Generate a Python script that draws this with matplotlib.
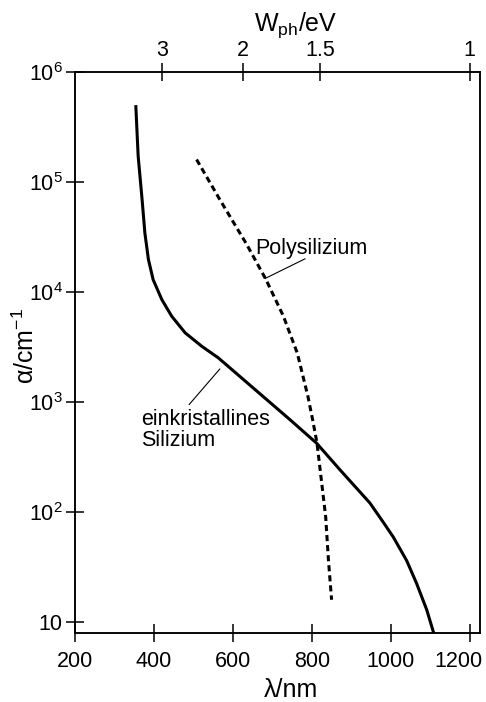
import matplotlib
matplotlib.use("Agg")
import matplotlib.pyplot as plt
from matplotlib.ticker import FixedLocator, FixedFormatter, NullLocator
from matplotlib.transforms import ScaledTranslation

plt.rcParams['font.family'] = ['Liberation Sans', 'DejaVu Sans']
plt.rcParams['mathtext.fontset'] = 'custom'
plt.rcParams['mathtext.rm'] = 'Liberation Sans'
plt.rcParams['mathtext.it'] = 'Liberation Sans'

# einkristallines Silizium (Wellenlaenge in nm, Absorption in 1/cm)
wl_mono = [354, 360, 370, 377, 386, 398, 420, 445, 479, 521, 563, 744,
           812, 871, 947, 980, 1006, 1040, 1065, 1091, 1109]
alpha_mono = [5.0e5, 1.72e5, 6.9e4, 3.44e4, 1.97e4, 1.29e4, 8.5e3, 6.0e3,
              4.24e3, 3.2e3, 2.51e3, 690, 420, 241, 120, 81, 59, 36,
              22.4, 12.8, 7.8]

# Polysilizium
wl_poly = [508, 567, 635, 684, 728, 763, 790, 802, 813, 824, 835, 842, 850]
alpha_poly = [1.6e5, 6.9e4, 2.7e4, 1.29e4, 6.0e3, 2.78e3, 1.12e3, 686, 422,
              195, 90, 36.5, 15.8]

# Achsenbeschriftung
x_ticks = [200, 400, 600, 800, 1000, 1200]
y_ticks = [10, 1e2, 1e3, 1e4, 1e5, 1e6]
y_labels = ['10', '10$^2$', '10$^3$', '10$^4$', '10$^5$', '10$^6$']
ev_labels = ['3', '2', '1.5', '1']
ev_pos_nm = [420, 625, 821, 1200]

fig = plt.figure(figsize=(4.86, 7.02), dpi=100)
ax = fig.add_axes([0.1543, 0.0979, 0.8334, 0.7995])

ax.plot(wl_mono, alpha_mono, color='black', lw=2.2, solid_capstyle='butt')
ax.plot(wl_poly, alpha_poly, color='black', lw=2.2, dashes=(2.0, 1.3))

ax.set_yscale('log')
ax.set_xlim(200, 1226)
ax.set_ylim(7.83, 1e6)

ax.xaxis.set_major_locator(FixedLocator(x_ticks))
ax.yaxis.set_major_locator(FixedLocator(y_ticks))
ax.yaxis.set_major_formatter(FixedFormatter(y_labels))
ax.yaxis.set_minor_locator(NullLocator())
ax.xaxis.set_minor_locator(NullLocator())

ax.tick_params(axis='both', direction='inout', length=13.5, width=1.1,
               labelsize=15.5, color='black')
ax.tick_params(axis='x', pad=6)
ax.tick_params(axis='y', pad=2)
for sp in ax.spines.values():
    sp.set_linewidth(1.1)

# letzte Beschriftung etwas nach links, damit sie ins Bild passt
last = ax.xaxis.get_major_ticks()[-1].label1
last.set_transform(last.get_transform()
                   + ScaledTranslation(-0.11, 0, fig.dpi_scale_trans))

ax.set_xlabel('λ/nm', fontsize=18, labelpad=0)
ax.xaxis.set_label_coords(0.533, -0.079)
ax.set_ylabel('α/cm$^{-1}$', fontsize=18)
ax.yaxis.set_label_coords(-0.088, 0.512)

# obere Achse: Photonenenergie
ax2 = ax.twiny()
ax2.set_xlim(ax.get_xlim())
ax2.xaxis.set_major_locator(FixedLocator(ev_pos_nm))
ax2.xaxis.set_major_formatter(FixedFormatter(ev_labels))
ax2.xaxis.set_minor_locator(NullLocator())
ax2.tick_params(axis='x', direction='inout', length=13.5, width=1.1,
                labelsize=15.5, pad=1)
for sp in ax2.spines.values():
    sp.set_linewidth(1.1)
ax2.set_xlabel('W$_{\\mathrm{ph}}$/eV', fontsize=18, labelpad=2)
ax2.xaxis.set_label_coords(0.544, 1.074)

# Beschriftungen der Kurven
ax.text(656, 2.19e4, 'Polysilizium', fontsize=15.5, ha='left', va='baseline')
ax.annotate('', xy=(681, 1.32e4), xytext=(783, 2.0e4),
            arrowprops=dict(arrowstyle='-', lw=0.8, color='black',
                            shrinkA=0, shrinkB=0))
ax.text(367, 865, 'einkristallines\nSilizium', fontsize=15.5, ha='left',
        va='top', linespacing=1.05)
ax.annotate('', xy=(567, 1990), xytext=(489, 942),
            arrowprops=dict(arrowstyle='-', lw=0.8, color='black',
                            shrinkA=0, shrinkB=0))

fig.savefig('out.png', dpi=100)
